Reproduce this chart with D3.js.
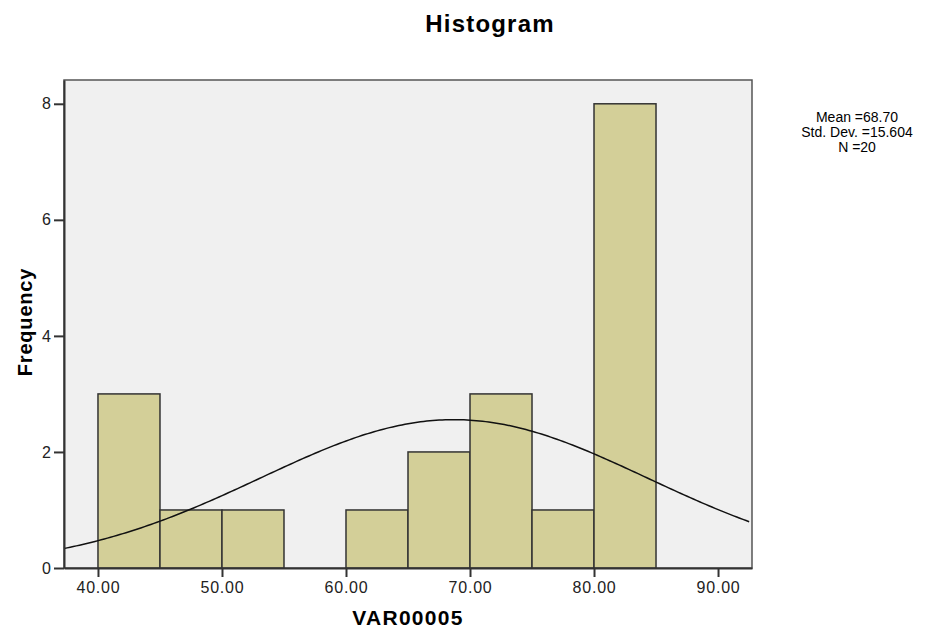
<!doctype html>
<html>
<head>
<script src="https://cdnjs.cloudflare.com/ajax/libs/d3/7.8.5/d3.min.js"></script>
<style>
    body { margin: 0; background: #fff; }
    text { font-family: "Liberation Sans", Arial, sans-serif; }
</style>
</head>
<body>
<script>
    // bins of VAR00005 (width 5) and their counts
    var binStarts = [40, 45, 50, 55, 60, 65, 70, 75, 80];
    var counts = [3, 1, 1, 0, 1, 2, 3, 1, 8];
    var binWidth = 5;
    var xTicks = [40, 50, 60, 70, 80, 90];
    var yTicks = [0, 2, 4, 6, 8];
    var stats = {mean: 68.70, sd: 15.604, n: 20};

    var width = 945, height = 628;
    var plot = {left: 64, right: 752, top: 80, bottom: 568};

    var svg = d3.select("body").append("svg")
        .attr("width", width)
        .attr("height", height);

    var x = d3.scaleLinear()
        .domain([37.26, 92.74])
        .range([plot.left, plot.right]);
    var y = d3.scaleLinear()
        .domain([0, 8.41])
        .range([plot.bottom, plot.top]);

    // plot background
    svg.append("rect")
        .attr("x", plot.left).attr("y", plot.top)
        .attr("width", plot.right - plot.left)
        .attr("height", plot.bottom - plot.top)
        .attr("fill", "#f0f0f0")
        .attr("stroke", "#555").attr("stroke-width", 1.5);

    // bars
    svg.selectAll("rect.bar")
        .data(binStarts.map(function(b, i) { return {x0: b, n: counts[i]}; }).filter(function(d) { return d.n > 0; }))
        .enter().append("rect")
        .attr("class", "bar")
        .attr("x", function(d) { return x(d.x0); })
        .attr("width", function(d) { return x(d.x0 + binWidth) - x(d.x0); })
        .attr("y", function(d) { return y(d.n); })
        .attr("height", function(d) { return y(0) - y(d.n); })
        .attr("fill", "#d3cf98")
        .attr("stroke", "#333").attr("stroke-width", 1.5);

    // fitted normal curve
    var pts = d3.range(x.domain()[0], x.domain()[1] + 0.01, 0.25).map(function(v) {
        var z = (v - stats.mean) / stats.sd;
        return [v, stats.n * binWidth * Math.exp(-0.5 * z * z) / (stats.sd * Math.sqrt(2 * Math.PI))];
    });
    svg.append("path")
        .datum(pts)
        .attr("fill", "none")
        .attr("stroke", "#111").attr("stroke-width", 1.5)
        .attr("d", d3.line().x(function(d) { return x(d[0]); }).y(function(d) { return y(d[1]); }));

    // axes
    var xAxis = svg.append("g")
        .attr("transform", "translate(0," + plot.bottom + ")")
        .call(d3.axisBottom(x).tickValues(xTicks).tickFormat(d3.format(".2f")).tickSize(9).tickSizeOuter(0));
    var yAxis = svg.append("g")
        .attr("transform", "translate(" + plot.left + ",0)")
        .call(d3.axisLeft(y).tickValues(yTicks).tickSize(10).tickSizeOuter(0));
    [xAxis, yAxis].forEach(function(g) {
        g.select(".domain").attr("stroke", "#333").attr("stroke-width", 2);
        g.selectAll(".tick line").attr("stroke", "#333").attr("stroke-width", 2);
        g.selectAll(".tick text").attr("font-size", 16).attr("fill", "#222")
            .attr("font-family", "'Liberation Sans', Arial, sans-serif");
    });
    xAxis.selectAll(".tick text").attr("y", 9).attr("dy", "1em").attr("letter-spacing", 0.8);
    yAxis.selectAll(".tick text").attr("x", -13);

    // titles
    svg.append("text")
        .attr("x", 490).attr("y", 32)
        .attr("text-anchor", "middle")
        .attr("font-size", 24).attr("font-weight", "bold")
        .attr("letter-spacing", 1.2)
        .text("Histogram");
    svg.append("text")
        .attr("x", 408).attr("y", 625)
        .attr("text-anchor", "middle")
        .attr("font-size", 21).attr("font-weight", "bold")
        .attr("letter-spacing", 1.3)
        .text("VAR00005");
    svg.append("text")
        .attr("transform", "translate(32,322) rotate(-90)")
        .attr("text-anchor", "middle")
        .attr("font-size", 20).attr("font-weight", "bold")
        .attr("letter-spacing", 0.8)
        .text("Frequency");

    // stats box
    var statLines = ["Mean =" + stats.mean.toFixed(2), "Std. Dev. =" + stats.sd.toFixed(3), "N =" + stats.n];
    svg.selectAll("text.stat")
        .data(statLines)
        .enter().append("text")
        .attr("class", "stat")
        .attr("x", 857)
        .attr("y", function(d, i) { return 122 + i * 15; })
        .attr("text-anchor", "middle")
        .attr("font-size", 14)
        .text(function(d) { return d; });
</script>
</body>
</html>
